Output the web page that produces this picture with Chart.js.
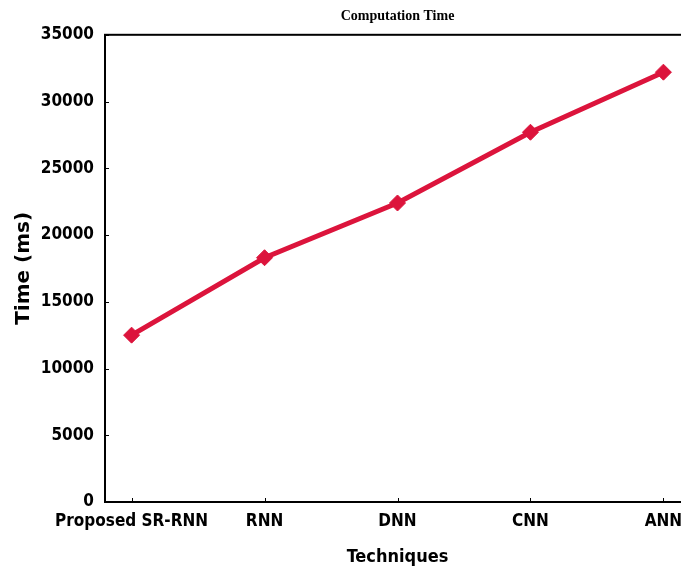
<!DOCTYPE html>
<html>
<head>
<meta charset="utf-8">
<script src="https://cdn.jsdelivr.net/npm/chart.js@4.4.1/dist/chart.umd.min.js"></script>
<style>
html,body{margin:0;padding:0;background:#fff;overflow:hidden;width:681px;height:568px;}
canvas{display:block;}
</style>
</head>
<body>
<canvas id="c" width="699" height="568"></canvas>
<script>
const categories = ["Proposed SR-RNN", "RNN", "DNN", "CNN", "ANN"];
const timeValues = [12500, 18300, 22400, 27700, 32200];
const yTicks = [0, 5000, 10000, 15000, 20000, 25000, 30000, 35000];

const condensed = "'DejaVu Sans Condensed', 'DejaVu Sans', sans-serif";
const tickFont = {family: condensed, weight: 'bold', size: 17};
const xTitleFont = {family: condensed, weight: 'bold', size: 18};
const yTitleFont = {family: "'DejaVu Sans', sans-serif", weight: 'bold', size: 20};

const boxPlugin = {
  id: 'box',
  afterLayout(chart) {
    const t = chart.titleBlock, a = chart.chartArea;
    if (t) { t.left = a.left; t.right = a.right; t.width = a.right - a.left; }
  },
  afterDraw(chart) {
    const {ctx, chartArea: a, scales} = chart;
    ctx.save();
    ctx.strokeStyle = '#000';
    ctx.lineWidth = 2;
    ctx.strokeRect(a.left, a.top, a.right - a.left, a.bottom - a.top);
    ctx.lineWidth = 1;
    ctx.beginPath();
    yTicks.forEach(v => {
      const y = Math.round(scales.y.getPixelForValue(v)) + 0.5;
      ctx.moveTo(a.left, y); ctx.lineTo(a.left + 4, y);
    });
    categories.forEach((c, i) => {
      const x = Math.round(scales.x.getPixelForValue(i)) + 0.5;
      ctx.moveTo(x, a.bottom); ctx.lineTo(x, a.bottom - 4);
    });
    ctx.stroke();
    ctx.restore();
  }
};

new Chart(document.getElementById('c'), {
  type: 'line',
  data: {
    datasets: [{
      data: timeValues.map((v, i) => ({x: i, y: v})),
      borderColor: '#dc143c',
      backgroundColor: '#dc143c',
      borderWidth: 5,
      pointStyle: 'rectRot',
      pointRadius: 8,
      pointBorderWidth: 1,
      pointBackgroundColor: '#dc143c',
      pointBorderColor: '#dc143c',
      tension: 0
    }]
  },
  options: {
    responsive: false,
    animation: false,
    layout: {padding: {left: 0, right: 0, top: 0, bottom: 0}},
    plugins: {
      legend: {display: false},
      tooltip: {enabled: false},
      title: {
        display: true,
        text: 'Computation Time',
        color: '#000',
        font: {family: "'Liberation Serif', 'Times New Roman', serif", weight: 'bold', size: 14},
        padding: {top: 8, bottom: 10}
      }
    },
    scales: {
      x: {
        type: 'linear',
        min: -0.2,
        max: 4.2,
        afterBuildTicks: s => { s.ticks = categories.map((c, i) => ({value: i})); },
        afterFit: s => { s.height = 66; s.paddingLeft = 0; s.paddingRight = 0; },
        grid: {display: false, drawTicks: false},
        border: {display: false},
        ticks: {
          color: '#000', font: tickFont, padding: 9, maxRotation: 0, autoSkip: false,
          callback: v => categories[v] ?? ''
        },
        title: {display: true, text: 'Techniques', color: '#000', font: xTitleFont, padding: {top: 0, bottom: 0}}
      },
      y: {
        min: 0,
        max: 35000,
        afterBuildTicks: s => { s.ticks = yTicks.map(v => ({value: v})); },
        afterFit: s => { s.width = 105; },
        grid: {display: false, drawTicks: false},
        border: {display: false},
        ticks: {color: '#000', font: tickFont, padding: 11, callback: v => String(v)},
        title: {display: true, text: 'Time (ms)', color: '#000', font: yTitleFont, padding: {top: 12, bottom: 0}}
      }
    }
  },
  plugins: [boxPlugin]
});
</script>
</body>
</html>
